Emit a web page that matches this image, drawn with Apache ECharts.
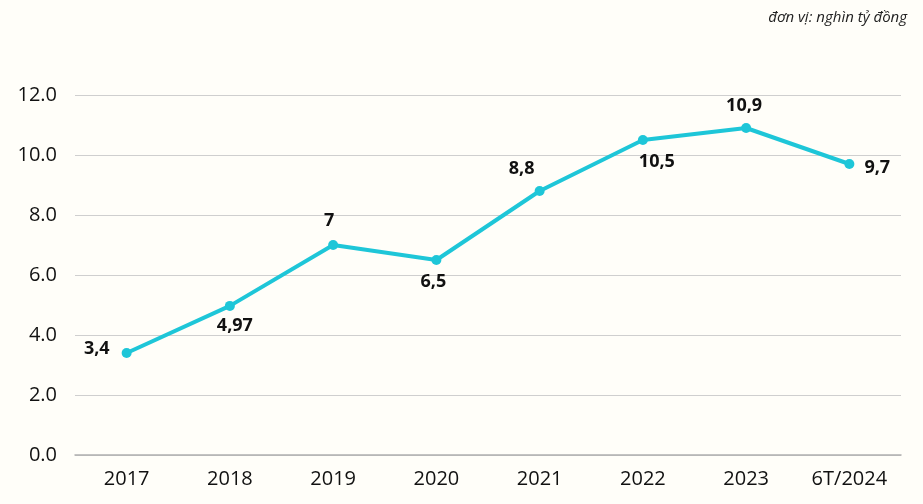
<!DOCTYPE html>
<html><head><meta charset="utf-8">
<script src="https://cdn.jsdelivr.net/npm/echarts@6/dist/echarts.min.js"></script>
<style>html,body{margin:0;padding:0;background:#fffef9;}#c{width:923px;height:504px;}</style>
</head><body><div id="c"></div>
<script>
const categories = ['2017','2018','2019','2020','2021','2022','2023','6T/2024'];
const values = [3.4, 4.97, 7, 6.5, 8.8, 10.5, 10.9, 9.7];
const labelTexts = ['3,4','4,97','7','6,5','8,8','10,5','10,9','9,7'];
const yTicks = {min: 0, max: 12, interval: 2};
const unitText = 'đơn vị: nghìn tỷ đồng';

const labelCfg = [
  {position:'left', distance:12, offset:[0,-4]},
  {position:'bottom', distance:6, offset:[5,0]},
  {position:'top', distance:10, offset:[-4,0]},
  {position:'bottom', distance:8, offset:[-3,0]},
  {position:'top', distance:8, offset:[-18,0]},
  {position:'bottom', distance:8, offset:[14,0]},
  {position:'top', distance:8, offset:[-2,0]},
  {position:'right', distance:10, offset:[0,4]}
];

const chart = echarts.init(document.getElementById('c'));
chart.setOption({
  backgroundColor: '#fffef9',
  animation: false,
  title: {
    text: unitText, right: 16, top: 10, padding: 0,
    textStyle: {fontFamily: 'Open Sans', fontStyle: 'italic', fontWeight: 'normal', fontSize: 15, color: '#222'}
  },
  grid: {left: 75, right: 22, top: 95, bottom: 49},
  xAxis: {
    type: 'category', data: categories, boundaryGap: true,
    axisLine: {lineStyle: {color: '#b0b0b0', width: 1.5}},
    axisTick: {show: false},
    axisLabel: {fontFamily: 'Open Sans', fontWeight: 500, fontSize: 20, color: '#111', margin: 14}
  },
  yAxis: {
    type: 'value', min: yTicks.min, max: yTicks.max, interval: yTicks.interval,
    axisLine: {show: false}, axisTick: {show: false},
    axisLabel: {fontFamily: 'Open Sans', fontWeight: 500, fontSize: 20, color: '#111', margin: 18,
      formatter: v => v.toFixed(1)},
    splitLine: {lineStyle: {color: '#cfcfcf', width: 1}}
  },
  series: [{
    type: 'line',
    data: values.map((v, i) => ({
      value: v,
      label: Object.assign({show: true, formatter: labelTexts[i]}, labelCfg[i])
    })),
    lineStyle: {color: '#1ec6d8', width: 4},
    itemStyle: {color: '#1ec6d8'},
    symbol: 'circle', symbolSize: 10,
    label: {fontFamily: 'Open Sans', fontWeight: 'bold', fontSize: 18, color: '#111'}
  }]
});
</script></body></html>
